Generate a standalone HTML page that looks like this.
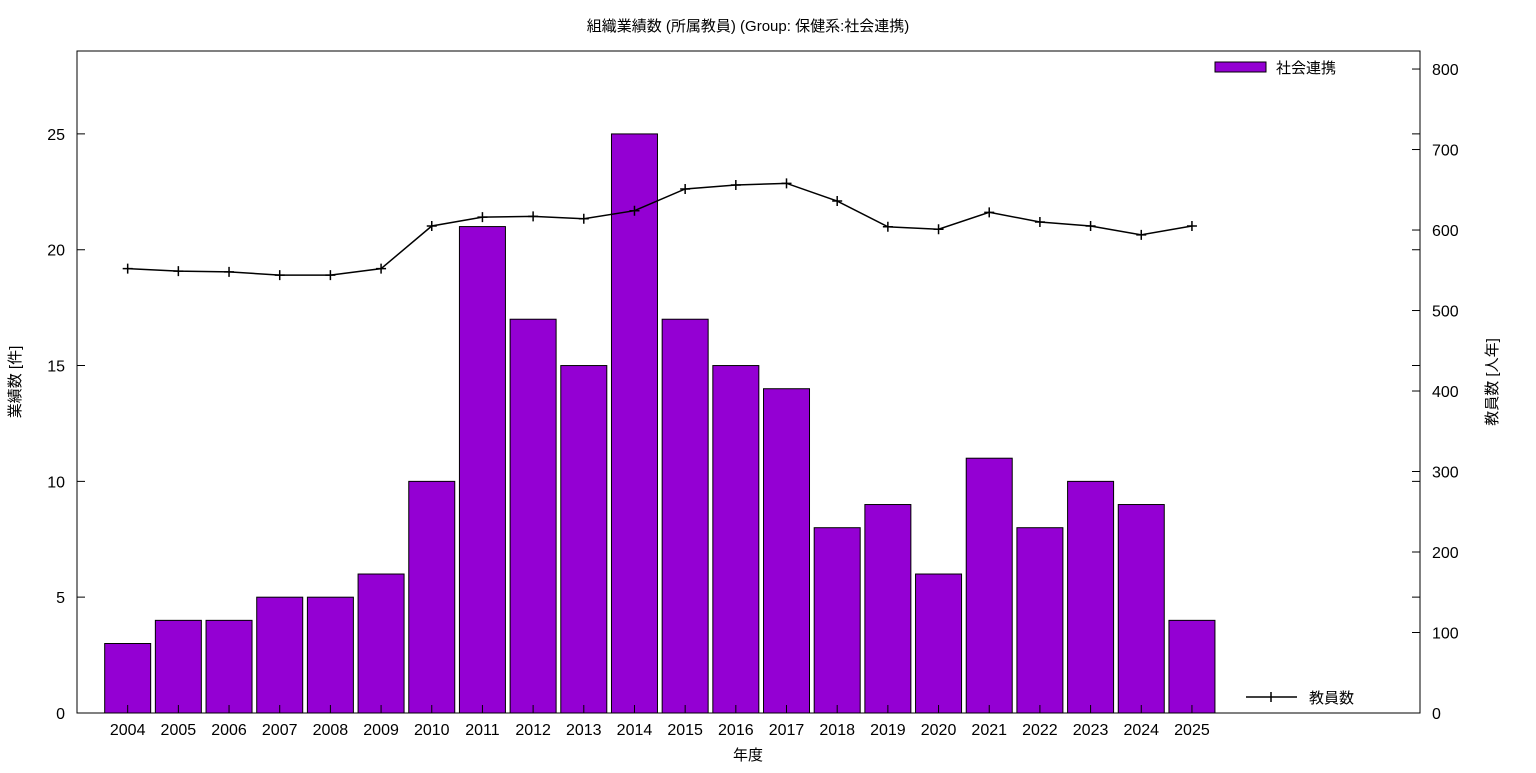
<!DOCTYPE html>
<html><head><meta charset="utf-8"><style>
body{margin:0;background:#fff;}
svg text{font-family:"Liberation Sans","Noto Sans CJK JP",sans-serif;fill:#000;}
</style></head><body>
<svg id="chart" width="1536" height="768" xmlns="http://www.w3.org/2000/svg">
<text x="748" y="31" font-size="15" text-anchor="middle">組織業績数 (所属教員) (Group: 保健系:社会連携)</text>
<g id="bars"></g><g id="line"></g><g id="axes"></g>
<rect x="77" y="51" width="1343" height="662" fill="none" stroke="#000" stroke-width="1"/>
<text transform="translate(20,382) rotate(-90)" font-size="15" text-anchor="middle">業績数 [件]</text>
<text transform="translate(1497,382) rotate(-90)" font-size="15" text-anchor="middle">教員数 [人年]</text>
<text x="748" y="760" font-size="15" text-anchor="middle">年度</text>
<g><rect x="1215" y="62" width="51" height="10" fill="#9400d3" stroke="#000"/><text x="1276" y="73" font-size="15">社会連携</text></g>
<g><line x1="1246" y1="697" x2="1297" y2="697" stroke="#000" stroke-width="1.5"/><line x1="1271" y1="692" x2="1271" y2="702" stroke="#000" stroke-width="1.5"/><text x="1309" y="703" font-size="15">教員数</text></g>
</svg>
<script>
const years=["2004","2005","2006","2007","2008","2009","2010","2011","2012","2013","2014","2015","2016","2017","2018","2019","2020","2021","2022","2023","2024","2025"];
const counts=[3,4,4,5,5,6,10,21,17,15,25,17,15,14,8,9,6,11,8,10,9,4];
const staff=[552,549,548,544,544,552,605,616,617,614,624,651,656,658,636,604,601,622,610,605,594,605];
const yTicks=[0,5,10,15,20,25];
const y2Ticks=[0,100,200,300,400,500,600,700,800];
const NS="http://www.w3.org/2000/svg";
const L=77,R=1420,T=51,B=713;
const xs=i=>L+(i+1)*(R-L)/26.5;
const ys=v=>B-v*(B-T)/28.58;
const y2s=v=>B-v*(B-T)/822.4;
function mk(t,a,p){const e=document.createElementNS(NS,t);for(const k in a)e.setAttribute(k,a[k]);p.appendChild(e);return e;}
const gb=document.getElementById('bars'),gl=document.getElementById('line'),ga=document.getElementById('axes');
counts.forEach((v,i)=>{const r=mk('rect',{x:xs(i)-23,y:ys(v),width:46,height:B-ys(v),fill:'#9400d3',stroke:'#000','stroke-width':1},gb);

});
const pl=mk('polyline',{points:staff.map((v,i)=>xs(i)+','+y2s(v)).join(' '),fill:'none',stroke:'#000','stroke-width':1.5},gl);


staff.forEach((v,i)=>{const x=xs(i),y=y2s(v);const p=mk('path',{d:`M${x-5},${y}H${x+5}M${x},${y-5}V${y+5}`,stroke:'#000','stroke-width':1.5},gl);

});
yTicks.forEach(v=>{const y=ys(v);mk('path',{d:`M${L},${y}h8M${R},${y}h-8`,stroke:'#000'},ga);
const t=mk('text',{x:L-12,y:y+6,'font-size':16,'text-anchor':'end'},ga);t.textContent=v;

});
y2Ticks.forEach(v=>{const y=y2s(v);mk('path',{d:`M${R},${y}h-8`,stroke:'#000'},ga);
const t=mk('text',{x:R+12,y:y+6,'font-size':16},ga);t.textContent=v;

});
years.forEach((yr,i)=>{const x=xs(i);mk('path',{d:`M${x},${B}v-8`,stroke:'#000'},ga);
const t=mk('text',{x:x,y:B+22,'font-size':16,'text-anchor':'middle'},ga);t.textContent=yr;

});
</script>
</body></html>
